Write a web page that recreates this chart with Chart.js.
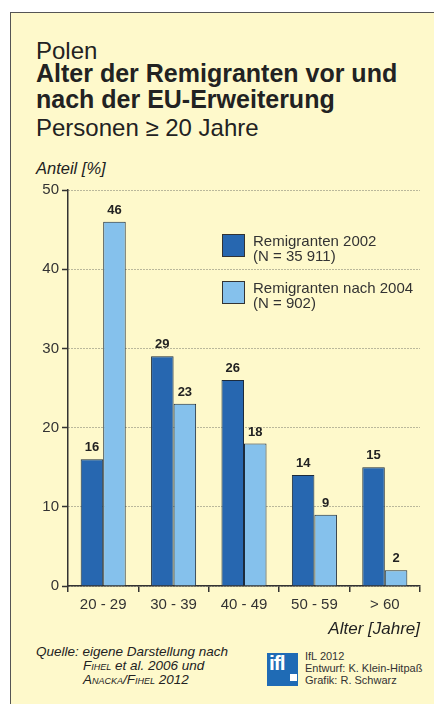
<!DOCTYPE html>
<html>
<head>
<meta charset="utf-8">
<script src="https://cdn.jsdelivr.net/npm/chart.js@4"></script>
<style>
  body { margin: 0; background: #fff; }
  #page { position: relative; width: 434px; height: 704px; background: #fff; overflow: hidden;
          font-family: "Liberation Sans", Arial, sans-serif; color: #222; }
  #frame { position: absolute; left: 10px; top: 12px; width: 440px; height: 720px;
           background: #fef9cb; border-left: 1.5px solid #555; border-top: 1.5px solid #555; }
  .t { position: absolute; white-space: nowrap; }
  #chartWrap { position: absolute; left: 0; top: 0; width: 434px; height: 704px; }
  .sc { font-variant: small-caps; }
</style>
</head>
<body>
<div id="page">
  <div id="frame"></div>
  <div class="t" style="left:36px; top:37px; font-size:24px;">Polen</div>
  <div class="t" style="left:36px; top:60px; font-size:25px; font-weight:bold; line-height:26px;">Alter der Remigranten vor und<br>nach der EU-Erweiterung</div>
  <div class="t" style="left:36px; top:114px; font-size:24px;">Personen ≥ 20 Jahre</div>
  <div class="t" style="left:36px; top:159px; font-size:16.5px; font-style:italic;">Anteil [%]</div>
  <div class="t" style="left:36px; top:645px; font-size:13.5px; font-style:italic; line-height:14px;">Quelle: eigene Darstellung nach<br>
    <span style="padding-left:47px"><span class="sc">Fihel</span> et al. 2006 und</span><br>
    <span style="padding-left:47px"><span class="sc">Anacka/Fihel</span> 2012</span></div>
  <div class="t" style="left:267px; top:653px; width:31px; height:33px; background:#1f6bb5;"></div>
  <div class="t" style="left:269px; top:651px; font-size:21px; font-weight:bold; color:#fff; letter-spacing:-1px;">ifl</div>
  <div class="t" style="left:290px; top:674px; width:7px; height:7px; background:#fff;"></div>
  <div class="t" style="left:305px; top:650px; font-size:11px; line-height:12px; color:#333;">IfL 2012<br>Entwurf: K. Klein-Hitpaß<br>Grafik: R. Schwarz</div>
  <div id="chartWrap"><canvas id="c" width="434" height="704"></canvas></div>
</div>
<script>
const categories = ['20 - 29', '30 - 39', '40 - 49', '50 - 59', '> 60'];
const remigranten2002 = [16, 29, 26, 14, 15];
const remigrantenNach2004 = [46, 23, 18, 9, 2];
const seriesLabels = [['Remigranten 2002', '(N = 35 911)'], ['Remigranten nach 2004', '(N = 902)']];
const yTicks = [0, 10, 20, 30, 40, 50];

const FONT = '"Liberation Sans", Arial, sans-serif';

// value labels above bars + legend inside plot
const extras = {
  id: 'extras',
  afterDatasetsDraw(chart) {
    const ctx = chart.ctx;
    ctx.save();
    ctx.fillStyle = '#222';
    ctx.font = 'bold 13px ' + FONT;
    ctx.textAlign = 'center';
    ctx.textBaseline = 'bottom';
    chart.data.datasets.forEach((ds, i) => {
      chart.getDatasetMeta(i).data.forEach((bar, j) => {
        ctx.fillText(ds.data[j], bar.x, bar.y - 5);
      });
    });
    // legend
    const lx = 222, ly = [234, 281];
    chart.data.datasets.forEach((ds, i) => {
      ctx.fillStyle = ds.backgroundColor;
      ctx.fillRect(lx, ly[i], 22, 22);
      ctx.strokeStyle = '#333';
      ctx.lineWidth = 1;
      ctx.strokeRect(lx + 0.5, ly[i] + 0.5, 22, 22);
      ctx.fillStyle = '#333';
      ctx.font = '15px ' + FONT;
      ctx.textAlign = 'left';
      ctx.textBaseline = 'alphabetic';
      ctx.fillText(seriesLabels[i][0], lx + 31, ly[i] + 12);
      ctx.fillText(seriesLabels[i][1], lx + 31, ly[i] + 27);
    });
    // x axis title
    ctx.font = 'italic 17px ' + FONT;
    ctx.textAlign = 'right';
    ctx.fillStyle = '#222';
    ctx.fillText('Alter [Jahre]', chart.chartArea.right, 634);
    ctx.restore();
  }
};

new Chart(document.getElementById('c'), {
  type: 'bar',
  data: {
    labels: categories,
    datasets: [
      { label: seriesLabels[0][0], data: remigranten2002, backgroundColor: '#2767b0', borderColor: '#1c2b3c', borderWidth: 1 },
      { label: seriesLabels[1][0], data: remigrantenNach2004, backgroundColor: '#85c1ec', borderColor: '#1c2b3c', borderWidth: 1 }
    ]
  },
  options: {
    responsive: false,
    animation: false,
    layout: { padding: { left: 38, right: 14, top: 190, bottom: 78 } },
    categoryPercentage: 0.64,
    barPercentage: 1,
    plugins: { legend: { display: false }, tooltip: { enabled: false } },
    scales: {
      x: {
        offset: true,
        afterFit: s => { s.height = 40; },
        grid: { offset: true, drawOnChartArea: false, tickLength: 6, color: '#333', lineWidth: 1.5 },
        border: { color: '#333', width: 1.5 },
        ticks: { color: '#333', font: { family: FONT, size: 15 }, padding: 4 }
      },
      y: {
        min: 0, max: 50,
        afterFit: s => { s.width = 30; },
        afterBuildTicks: s => { s.ticks = yTicks.map(v => ({ value: v })); },
        grid: { color: '#77776a', lineWidth: 1, tickBorderDash: [], tickColor: '#333', tickLength: 6, tickWidth: 1.5 },
        border: { color: '#333', width: 1.5, dash: [1, 2] },
        ticks: { color: '#333', font: { family: FONT, size: 15 }, padding: 3 }
      }
    }
  },
  plugins: [extras]
});
</script>
</body>
</html>
